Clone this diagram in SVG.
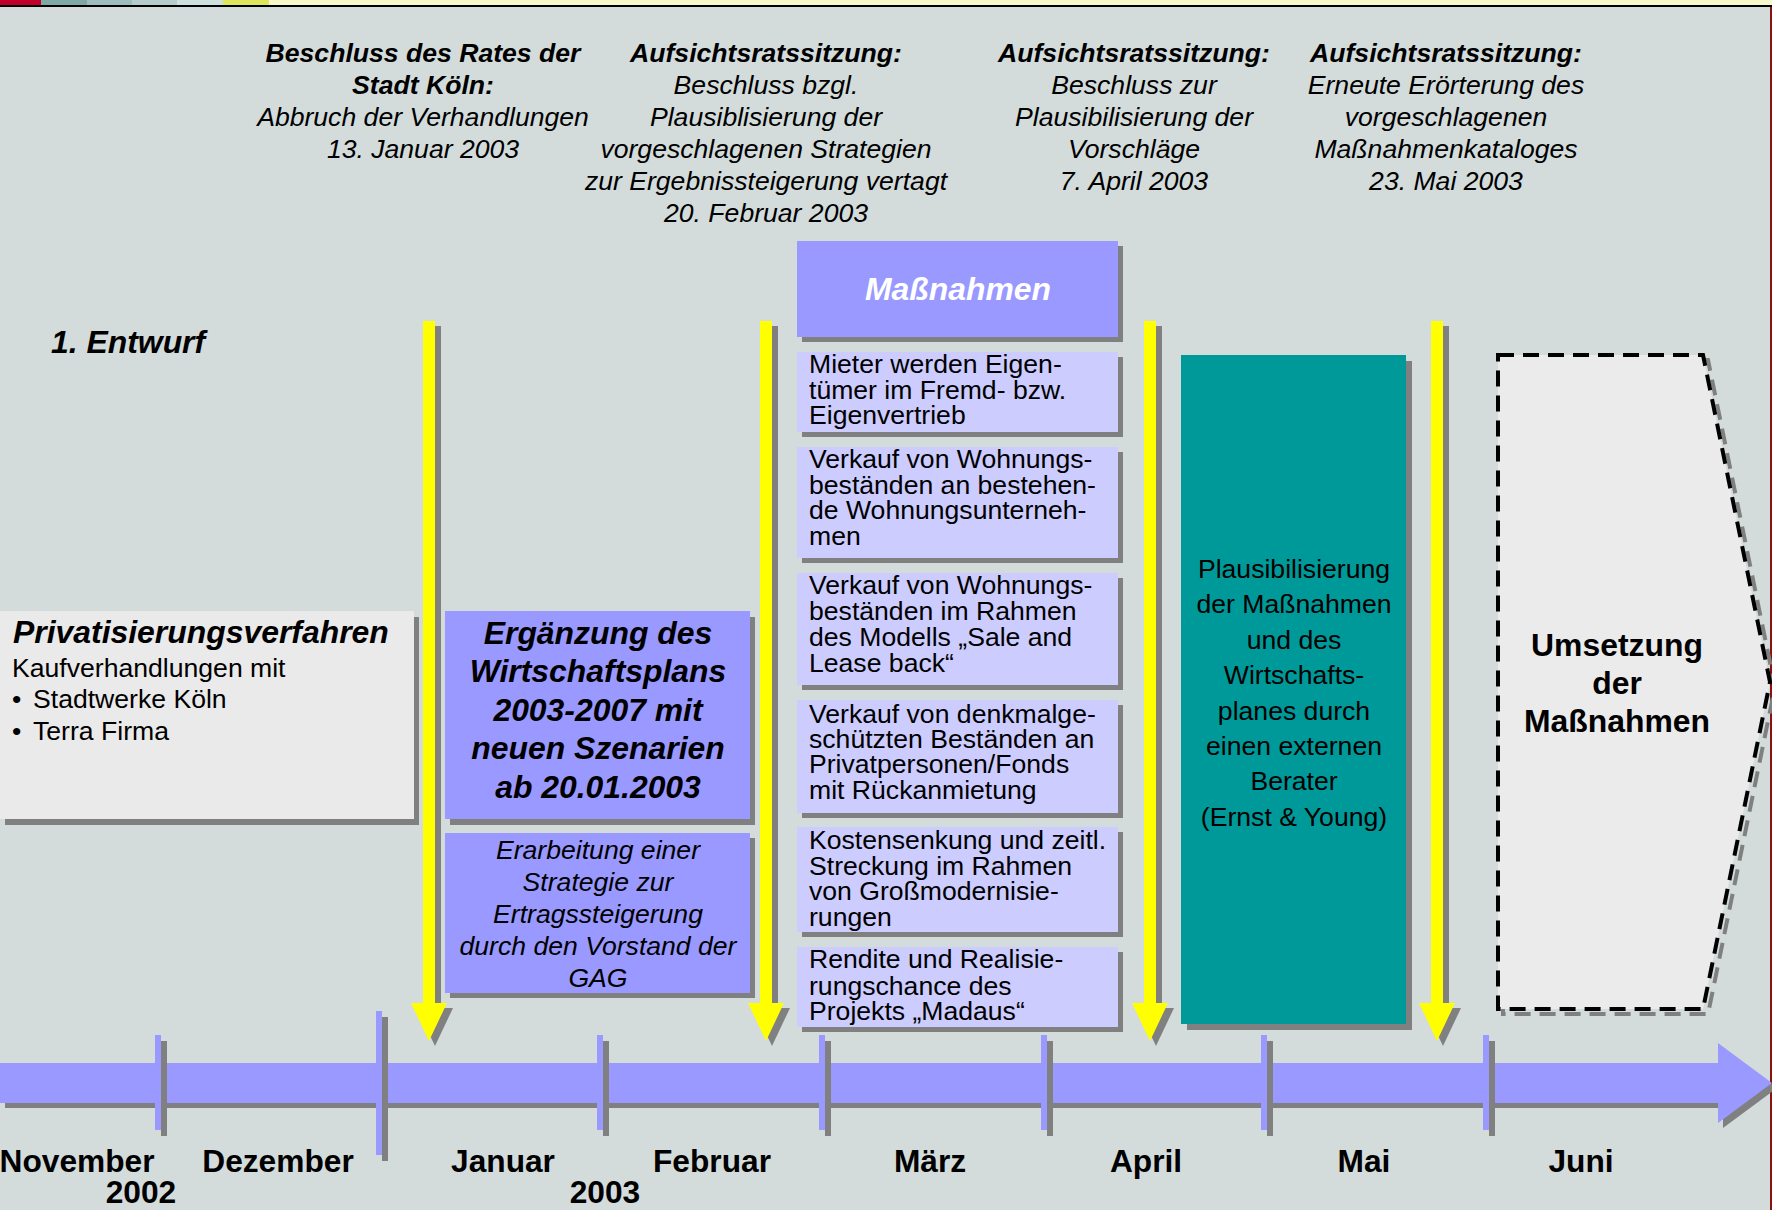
<svg xmlns="http://www.w3.org/2000/svg" width="1772" height="1210" viewBox="0 0 1772 1210">
<style>
text { font-family: "Liberation Sans", Arial, sans-serif; fill: #000; }
.r26 { font-size: 26.6px; }
.bi { font-weight: bold; font-style: italic; }
.i { font-style: italic; }
.b { font-weight: bold; }
.c { text-anchor: middle; }
.sh { fill: #808080; }
.pur { fill: #9999ff; }
.lav { fill: #ccccff; }
.yel { fill: #ffff00; }
.mon { font-size: 31.7px; font-weight: bold; text-anchor: middle; }
.big { font-size: 31.9px; }
</style>
<defs>
<path id="yarrow" d="M-6,321 H6 V1003 H18 L0,1041 L-18,1003 H-6 Z"/>
<rect id="tick" x="0" y="1035" width="6" height="95"/>
<rect id="tickL" x="0" y="1011" width="6" height="144"/>
</defs>

<rect x="0" y="0" width="1772" height="1210" fill="#d3dcdb"/>

<g id="topbar">
<rect x="0" y="0" width="41" height="5" fill="#c00028"/>
<rect x="41" y="0" width="46" height="5" fill="#7ea7a5"/>
<rect x="87" y="0" width="45" height="5" fill="#9dbcbb"/>
<rect x="132" y="0" width="45" height="5" fill="#b5cccb"/>
<rect x="177" y="0" width="46" height="5" fill="#cde0dd"/>
<rect x="223" y="0" width="46" height="5" fill="#e0e65c"/>
<rect x="269" y="0" width="1503" height="5" fill="#f7f7c9"/>
<rect x="0" y="5" width="1772" height="2" fill="#000"/>
<rect x="1770" y="7" width="2" height="1203" fill="#8b1010"/>
</g>

<g id="event-1" class="r26 c">
<text x="423" y="62" class="bi">Beschluss des Rates der</text>
<text x="423" y="94" class="bi">Stadt Köln:</text>
<text x="423" y="126" class="i">Abbruch der Verhandlungen</text>
<text x="423" y="158" class="i">13. Januar 2003</text>
</g>
<g id="event-2" class="r26 c">
<text x="766" y="62" class="bi">Aufsichtsratssitzung:</text>
<text x="766" y="94" class="i">Beschluss bzgl.</text>
<text x="766" y="126" class="i">Plausiblisierung der</text>
<text x="766" y="158" class="i">vorgeschlagenen Strategien</text>
<text x="766" y="190" class="i">zur Ergebnissteigerung vertagt</text>
<text x="766" y="222" class="i">20. Februar 2003</text>
</g>
<g id="event-3" class="r26 c">
<text x="1134" y="62" class="bi">Aufsichtsratssitzung:</text>
<text x="1134" y="94" class="i">Beschluss zur</text>
<text x="1134" y="126" class="i">Plausibilisierung der</text>
<text x="1134" y="158" class="i">Vorschläge</text>
<text x="1134" y="190" class="i">7. April 2003</text>
</g>
<g id="event-4" class="r26 c">
<text x="1446" y="62" class="bi">Aufsichtsratssitzung:</text>
<text x="1446" y="94" class="i">Erneute Erörterung des</text>
<text x="1446" y="126" class="i">vorgeschlagenen</text>
<text x="1446" y="158" class="i">Maßnahmenkataloges</text>
<text x="1446" y="190" class="i">23. Mai 2003</text>
</g>

<g id="entwurf">
<text x="51" y="353" class="bi big">1. Entwurf</text>
</g>

<g id="timeline">
<path class="sh" d="M5,1068 H1723 V1048 L1777,1088 L1723,1128 V1108 H5 Z"/>
<path class="pur" d="M0,1063 H1718 V1043 L1772,1083 L1718,1123 V1103 H0 Z"/>
<g class="sh">
<use href="#tick" x="161" y="6"/>
<use href="#tickL" x="382" y="6"/>
<use href="#tick" x="603" y="6"/>
<use href="#tick" x="825" y="6"/>
<use href="#tick" x="1047" y="6"/>
<use href="#tick" x="1267" y="6"/>
<use href="#tick" x="1489" y="6"/>
</g>
<g class="pur">
<use href="#tick" x="155"/>
<use href="#tickL" x="376"/>
<use href="#tick" x="597"/>
<use href="#tick" x="819"/>
<use href="#tick" x="1041"/>
<use href="#tick" x="1261"/>
<use href="#tick" x="1483"/>
</g>
<text x="77" y="1172" class="mon">November</text>
<text x="141" y="1203" class="mon">2002</text>
<text x="278" y="1172" class="mon">Dezember</text>
<text x="503" y="1172" class="mon">Januar</text>
<text x="605" y="1203" class="mon">2003</text>
<text x="712" y="1172" class="mon">Februar</text>
<text x="930" y="1172" class="mon">März</text>
<text x="1146" y="1172" class="mon">April</text>
<text x="1364" y="1172" class="mon">Mai</text>
<text x="1581" y="1172" class="mon">Juni</text>
</g>

<g id="privatisierung">
<rect class="sh" x="5" y="617" width="414" height="208"/>
<rect x="0" y="611" width="414" height="208" fill="#eaeaea"/>
<text x="13" y="643" class="bi big">Privatisierungsverfahren</text>
<text x="12" y="677" class="r26">Kaufverhandlungen mit</text>
<text x="12" y="708" class="r26">•</text>
<text x="33" y="708" class="r26">Stadtwerke Köln</text>
<text x="12" y="740" class="r26">•</text>
<text x="33" y="740" class="r26">Terra Firma</text>
</g>

<g id="ergaenzung">
<rect class="sh" x="450" y="617" width="305" height="208"/>
<rect class="pur" x="445" y="611" width="305" height="208"/>
<g class="bi big c">
<text x="598" y="644">Ergänzung des</text>
<text x="598" y="682">Wirtschaftsplans</text>
<text x="598" y="721">2003-2007 mit</text>
<text x="598" y="759">neuen Szenarien</text>
<text x="598" y="798">ab 20.01.2003</text>
</g>
</g>

<g id="erarbeitung">
<rect class="sh" x="450" y="838" width="305" height="160"/>
<rect class="pur" x="445" y="833" width="305" height="160"/>
<g class="i r26 c">
<text x="598" y="859">Erarbeitung einer</text>
<text x="598" y="891">Strategie zur</text>
<text x="598" y="923">Ertragssteigerung</text>
<text x="598" y="955">durch den Vorstand der</text>
<text x="598" y="987">GAG</text>
</g>
</g>

<g id="massnahmen-header">
<rect class="sh" x="802" y="246" width="321" height="96"/>
<rect class="pur" x="797" y="241" width="321" height="96"/>
<text x="958" y="300" class="bi big c" style="fill:#ffffff">Maßnahmen</text>
</g>

<g id="m1">
<rect class="sh" x="802" y="357" width="321" height="80"/>
<rect class="lav" x="797" y="352" width="321" height="80"/>
<g class="r26"><text x="809" y="373">Mieter werden Eigen-</text><text x="809" y="399">tümer im Fremd- bzw.</text><text x="809" y="424">Eigenvertrieb</text></g>
</g>
<g id="m2">
<rect class="sh" x="802" y="452" width="321" height="111"/>
<rect class="lav" x="797" y="447" width="321" height="111"/>
<g class="r26"><text x="809" y="468">Verkauf von Wohnungs-</text><text x="809" y="494">beständen an bestehen-</text><text x="809" y="519">de Wohnungsunterneh-</text><text x="809" y="545">men</text></g>
</g>
<g id="m3">
<rect class="sh" x="802" y="578" width="321" height="112"/>
<rect class="lav" x="797" y="573" width="321" height="112"/>
<g class="r26"><text x="809" y="594">Verkauf von Wohnungs-</text><text x="809" y="620">beständen im Rahmen</text><text x="809" y="646">des Modells „Sale and</text><text x="809" y="672">Lease back“</text></g>
</g>
<g id="m4">
<rect class="sh" x="802" y="705" width="321" height="113"/>
<rect class="lav" x="797" y="700" width="321" height="113"/>
<g class="r26"><text x="809" y="723">Verkauf von denkmalge-</text><text x="809" y="748">schützten Beständen an</text><text x="809" y="773">Privatpersonen/Fonds</text><text x="809" y="799">mit Rückanmietung</text></g>
</g>
<g id="m5">
<rect class="sh" x="802" y="832" width="321" height="105"/>
<rect class="lav" x="797" y="827" width="321" height="105"/>
<g class="r26"><text x="809" y="849">Kostensenkung und zeitl.</text><text x="809" y="875">Streckung im Rahmen</text><text x="809" y="900">von Großmodernisie-</text><text x="809" y="926">rungen</text></g>
</g>
<g id="m6">
<rect class="sh" x="802" y="952" width="321" height="80"/>
<rect class="lav" x="797" y="947" width="321" height="80"/>
<g class="r26"><text x="809" y="968">Rendite und Realisie-</text><text x="809" y="995">rungschance des</text><text x="809" y="1020">Projekts „Madaus“</text></g>
</g>

<g id="plausibilisierung">
<rect class="sh" x="1187" y="361" width="225" height="669"/>
<rect x="1181" y="355" width="225" height="669" fill="#009999"/>
<g class="r26 c" style="fill:#111">
<text x="1294" y="578">Plausibilisierung</text>
<text x="1294" y="613">der Maßnahmen</text>
<text x="1294" y="649">und des</text>
<text x="1294" y="684">Wirtschafts-</text>
<text x="1294" y="720">planes durch</text>
<text x="1294" y="755">einen externen</text>
<text x="1294" y="790">Berater</text>
<text x="1294" y="826">(Ernst &amp; Young)</text>
</g>
</g>

<g id="umsetzung">
<polygon points="1503,360 1708,360 1775,687 1708,1014 1503,1014" fill="none" stroke="#808080" stroke-width="4" stroke-dasharray="16 9"/>
<polygon points="1498,355 1703,355 1770,682 1703,1009 1498,1009" fill="#ebebeb" stroke="#000" stroke-width="4" stroke-dasharray="16 9"/>
<g class="b big c">
<text x="1617" y="656">Umsetzung</text>
<text x="1617" y="694">der</text>
<text x="1617" y="732">Maßnahmen</text>
</g>
</g>

<g id="connectors">
<g class="sh">
<use href="#yarrow" x="435" y="5"/>
<use href="#yarrow" x="772" y="5"/>
<use href="#yarrow" x="1156" y="5"/>
<use href="#yarrow" x="1443" y="5"/>
</g>
<g class="yel">
<use href="#yarrow" x="429"/>
<use href="#yarrow" x="766"/>
<use href="#yarrow" x="1150"/>
<use href="#yarrow" x="1437"/>
</g>
</g>
</svg>
